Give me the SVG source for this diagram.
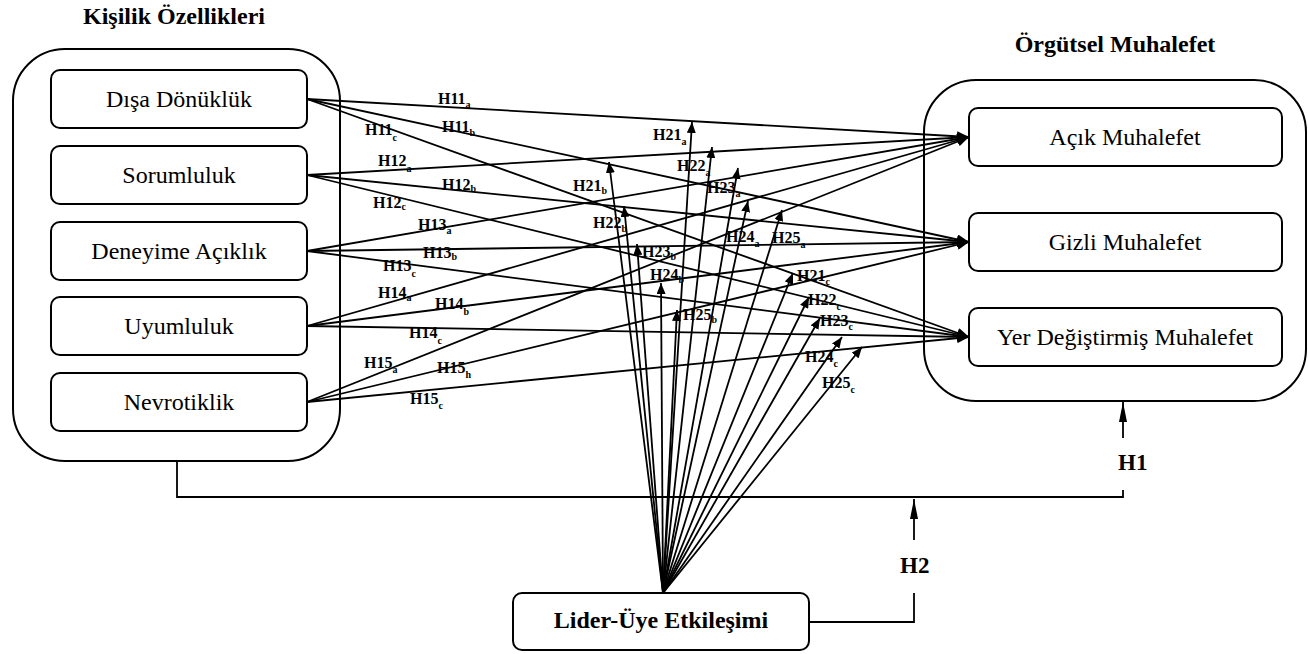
<svg xmlns="http://www.w3.org/2000/svg" width="1308" height="654" viewBox="0 0 1308 654">
<style>
.cont{fill:none;stroke:#000;stroke-width:2}
.box{fill:#fff;stroke:#000;stroke-width:2}
.lbl{font-family:"Liberation Serif","Times New Roman",serif;font-size:24px;fill:#000;text-anchor:middle}
.ttl{font-family:"Liberation Serif","Times New Roman",serif;font-size:24px;font-weight:bold;fill:#000;text-anchor:middle}
.hl{font-family:"Liberation Serif","Times New Roman",serif;font-size:16px;font-weight:bold;fill:#000}
.hl tspan{font-size:10px}
.hb{font-family:"Liberation Serif","Times New Roman",serif;font-size:23px;font-weight:bold;fill:#000}
.ln{stroke:#000;stroke-width:1.8;fill:none}
.a1{marker-end:url(#ah)}
.a2{marker-end:url(#af)}
.a3{marker-end:url(#ab)}
</style>
<defs>
<marker id="ah" markerUnits="userSpaceOnUse" markerWidth="12" markerHeight="10" refX="12" refY="5" orient="auto"><path d="M0,0 L12,5 L0,10 z" fill="#000"/></marker>
<marker id="af" markerUnits="userSpaceOnUse" markerWidth="11" markerHeight="9" refX="11" refY="4.5" orient="auto"><path d="M0,0 L11,4.5 L0,9 z" fill="#000"/></marker>
<marker id="ab" markerUnits="userSpaceOnUse" markerWidth="20" markerHeight="8" refX="20" refY="4" orient="auto"><path d="M0,0 L20,4 L0,8 z" fill="#000"/></marker>
</defs>
<rect width="1308" height="654" fill="#fff"/>

<g id="kisilik">
<text class="ttl" x="174" y="24">Kişilik Özellikleri</text>
<rect class="cont" x="13" y="49" width="327" height="412" rx="52"/>
</g>
<g id="orgutsel">
<text class="ttl" x="1115" y="52">Örgütsel Muhalefet</text>
<rect class="cont" x="924" y="80" width="382" height="321" rx="52"/>
</g>

<g id="connectors">
<g class="ln a1">
<line x1="307" y1="99" x2="969" y2="137"/>
<line x1="307" y1="99" x2="969" y2="242"/>
<line x1="307" y1="99" x2="969" y2="337"/>
<line x1="307" y1="175" x2="969" y2="137"/>
<line x1="307" y1="175" x2="969" y2="242"/>
<line x1="307" y1="175" x2="969" y2="337"/>
<line x1="307" y1="251" x2="969" y2="137"/>
<line x1="307" y1="251" x2="969" y2="242"/>
<line x1="307" y1="251" x2="969" y2="337"/>
<line x1="307" y1="326" x2="969" y2="137"/>
<line x1="307" y1="326" x2="969" y2="242"/>
<line x1="307" y1="326" x2="969" y2="337"/>
<line x1="307" y1="402" x2="969" y2="137"/>
<line x1="307" y1="402" x2="969" y2="242"/>
<line x1="307" y1="402" x2="969" y2="337"/>
</g>
<g class="ln a2">
<line x1="663" y1="593" x2="692" y2="122"/>
<line x1="663" y1="593" x2="712" y2="147"/>
<line x1="663" y1="593" x2="738" y2="168"/>
<line x1="663" y1="593" x2="609" y2="162"/>
<line x1="663" y1="593" x2="624" y2="206"/>
<line x1="663" y1="593" x2="748" y2="201"/>
<line x1="663" y1="593" x2="782" y2="210"/>
<line x1="663" y1="593" x2="637" y2="244"/>
<line x1="663" y1="593" x2="661" y2="283"/>
<line x1="663" y1="593" x2="677" y2="310"/>
<line x1="663" y1="593" x2="793" y2="273"/>
<line x1="663" y1="593" x2="809" y2="297"/>
<line x1="663" y1="593" x2="820" y2="318"/>
<line x1="663" y1="593" x2="842" y2="337"/>
<line x1="663" y1="593" x2="862" y2="347"/>
</g>
<path class="ln" d="M177,461 V497 H1123 V490"/>
<line class="ln a3" x1="1123" y1="438" x2="1123" y2="402"/>
<line class="ln a3" x1="914" y1="540" x2="914" y2="499"/>
<path class="ln" d="M914,593 V622 H810"/>
</g>

<g id="h-labels">
<text class="hl" x="438" y="104">H11<tspan dy="4">a</tspan></text>
<text class="hl" x="442" y="132">H11<tspan dy="4">b</tspan></text>
<text class="hl" x="365" y="135">H11<tspan dy="6">c</tspan></text>
<text class="hl" x="378" y="166">H12<tspan dy="6">a</tspan></text>
<text class="hl" x="442" y="190">H12<tspan dy="2">b</tspan></text>
<text class="hl" x="373" y="208">H12<tspan dy="2">c</tspan></text>
<text class="hl" x="418" y="230">H13<tspan dy="4">a</tspan></text>
<text class="hl" x="423" y="258">H13<tspan dy="2">b</tspan></text>
<text class="hl" x="383" y="271">H13<tspan dy="6">c</tspan></text>
<text class="hl" x="378" y="298">H14<tspan dy="3">a</tspan></text>
<text class="hl" x="435" y="309">H14<tspan dy="6">b</tspan></text>
<text class="hl" x="409" y="338">H14<tspan dy="6">c</tspan></text>
<text class="hl" x="364" y="368">H15<tspan dy="5">a</tspan></text>
<text class="hl" x="437" y="373">H15<tspan dy="5">h</tspan></text>
<text class="hl" x="410" y="404">H15<tspan dy="5">c</tspan></text>

<text class="hl" x="653" y="140">H21<tspan dy="5">a</tspan></text>
<text class="hl" x="677" y="171">H22<tspan dy="5">a</tspan></text>
<text class="hl" x="707" y="193">H23<tspan dy="4">a</tspan></text>
<text class="hl" x="573" y="191">H21<tspan dy="3">b</tspan></text>
<text class="hl" x="593" y="228">H22<tspan dy="4">b</tspan></text>
<text class="hl" x="726" y="242">H24<tspan dy="5">a</tspan></text>
<text class="hl" x="772" y="243">H25<tspan dy="5">a</tspan></text>
<text class="hl" x="642" y="257">H23<tspan dy="3">b</tspan></text>
<text class="hl" x="650" y="280">H24<tspan dy="3">b</tspan></text>
<text class="hl" x="683" y="320">H25<tspan dy="3">b</tspan></text>
<text class="hl" x="797" y="281">H21<tspan dy="4">c</tspan></text>
<text class="hl" x="808" y="305">H22<tspan dy="5">c</tspan></text>
<text class="hl" x="820" y="326">H23<tspan dy="4">c</tspan></text>
<text class="hl" x="805" y="362">H24<tspan dy="5">c</tspan></text>
<text class="hl" x="822" y="388">H25<tspan dy="5">c</tspan></text>

<text class="hb" x="1118" y="470">H1</text>
<text class="hb" x="900" y="573">H2</text>
</g>

<g id="disa-donukluk"><rect class="box" x="51" y="70" width="256" height="58" rx="9"/><text class="lbl" x="179" y="107">Dışa Dönüklük</text></g>
<g id="sorumluluk"><rect class="box" x="51" y="146" width="256" height="58" rx="9"/><text class="lbl" x="179" y="183">Sorumluluk</text></g>
<g id="deneyime-aciklik"><rect class="box" x="51" y="222" width="256" height="58" rx="9"/><text class="lbl" x="179" y="259">Deneyime Açıklık</text></g>
<g id="uyumluluk"><rect class="box" x="51" y="297" width="256" height="58" rx="9"/><text class="lbl" x="179" y="334">Uyumluluk</text></g>
<g id="nevrotiklik"><rect class="box" x="51" y="373" width="256" height="58" rx="9"/><text class="lbl" x="179" y="410">Nevrotiklik</text></g>

<g id="acik-muhalefet"><rect class="box" x="969" y="108" width="313" height="58" rx="9"/><text class="lbl" x="1125" y="145">Açık Muhalefet</text></g>
<g id="gizli-muhalefet"><rect class="box" x="969" y="213" width="313" height="58" rx="9"/><text class="lbl" x="1125" y="250">Gizli Muhalefet</text></g>
<g id="yer-degistirmis-muhalefet"><rect class="box" x="969" y="308" width="313" height="58" rx="9"/><text class="lbl" x="1125" y="345">Yer Değiştirmiş Muhalefet</text></g>

<g id="lider-uye"><rect class="box" x="513" y="593" width="296" height="57" rx="9"/><text class="ttl" x="661" y="628">Lider-Üye Etkileşimi</text></g>
</svg>
